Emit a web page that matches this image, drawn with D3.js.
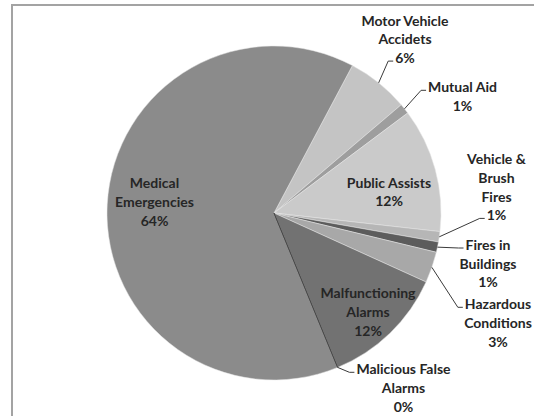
<!DOCTYPE html>
<html>
<head>
<meta charset="utf-8">
<script src="https://cdn.jsdelivr.net/npm/d3@7"></script>
<style>
  html, body { margin: 0; padding: 0; background: #ffffff; }
  svg { display: block; }
  .lbl { font-family: Lato, "Liberation Sans", sans-serif; font-weight: 700; font-size: 14px; fill: #262626; }
</style>
</head>
<body>
<svg id="chart" width="534" height="416"></svg>
<script>
// Call categories, clockwise from the Motor Vehicle slice
const categories = [
  "Motor Vehicle Accidets", "Mutual Aid", "Public Assists", "Vehicle & Brush Fires",
  "Fires in Buildings", "Hazardous Conditions", "Malfunctioning Alarms",
  "Malicious False Alarms", "Medical Emergencies"
];
// Label text split onto lines (percent line is added from the value)
const nameLines = [
  ["Motor Vehicle", "Accidets"], ["Mutual Aid"], ["Public Assists"], ["Vehicle &", "Brush", "Fires"],
  ["Fires in", "Buildings"], ["Hazardous", "Conditions"], ["Malfunctioning", "Alarms"],
  ["Malicious False", "Alarms"], ["Medical", "Emergencies"]
];
// Share of calls, percent
const shares = [6, 1, 12, 1, 1, 3, 12, 0, 64];

// ---- styling / layout ----
const sliceColors = ["#c4c4c4", "#9e9e9e", "#cacaca", "#b6b6b6", "#5c5c5c", "#a8a8a8", "#727272", "#4d4d4d", "#8b8b8b"];
const cx = 274, cy = 213, radius = 167;
const startDeg = 28;
const lineGap = 18.7;
// label block anchor (centre x, first line centre y) relative to pie centre; leader attaches to first/last line
const labelLayout = [
  { dx: 131,    dy: -192.3, leader: "last"  },
  { dx: 188.5,  dy: -125.7, leader: "first" },
  { dx: 115,    dy: -30.3,  leader: null    },
  { dx: 222.5,  dy: -53.7,  leader: "last"  },
  { dx: 214,    dy: 32,     leader: "first" },
  { dx: 224,    dy: 91.3,   leader: "first" },
  { dx: 94,     dy: 80.3,   leader: null    },
  { dx: 129.5,  dy: 156.3,  leader: "first" },
  { dx: -119.5, dy: -29.7,  leader: null    }
];

const svg = d3.select("#chart");

// outer frame (runs past the right and bottom edges)
svg.append("rect")
  .attr("x", 12).attr("y", 5)
  .attr("width", 640).attr("height", 640)
  .attr("fill", "none").attr("stroke", "#a3a3a3").attr("stroke-width", 2);

const rows = categories.map((c, i) => ({ name: c, value: shares[i], lines: nameLines[i], color: sliceColors[i], layout: labelLayout[i] }));

const toRad = d => d * Math.PI / 180;
const pie = d3.pie().sort(null).value(d => d.value)
  .startAngle(toRad(startDeg)).endAngle(toRad(startDeg) + 2 * Math.PI);
const arcs = pie(rows);
const arc = d3.arc().innerRadius(0).outerRadius(radius);

const g = svg.append("g").attr("transform", `translate(${cx},${cy})`);

// regular slices first, zero-width slice last so its edge line shows
const ordered = arcs.filter(a => a.data.value > 0).concat(arcs.filter(a => a.data.value === 0));
g.selectAll("path.slice").data(ordered).join("path")
  .attr("class", "slice")
  .attr("d", arc)
  .attr("fill", d => d.data.color)
  .attr("stroke", d => d.data.value === 0 ? "#4a4a4a" : "#e6e6e6")
  .attr("stroke-width", d => d.data.value === 0 ? 1 : 0.5)
  .attr("stroke-linejoin", "round");

// labels
arcs.forEach(a => {
  const L = a.data.layout;
  const lines = a.data.lines.concat([`${a.data.value}%`]);
  const t = g.append("text").attr("class", "lbl").attr("text-anchor", "middle");
  const spans = lines.map((s, k) =>
    t.append("tspan").attr("x", L.dx).attr("y", L.dy + k * lineGap + 5).text(s));

  if (L.leader) {
    const k = L.leader === "first" ? 0 : lines.length - 1;
    const w = spans[k].node().getComputedTextLength();
    const endX = L.dx - w / 2 - 2;
    const endY = L.dy + k * lineGap + 3;
    const mid = (a.startAngle + a.endAngle) / 2;
    const sx = radius * Math.sin(mid), sy = -radius * Math.cos(mid);
    g.insert("path", "text")
      .attr("d", d3.line()([[sx, sy], [endX - 5, endY], [endX, endY]]))
      .attr("fill", "none").attr("stroke", "#3a3a3a").attr("stroke-width", 1);
  }
});
</script>
</body>
</html>
